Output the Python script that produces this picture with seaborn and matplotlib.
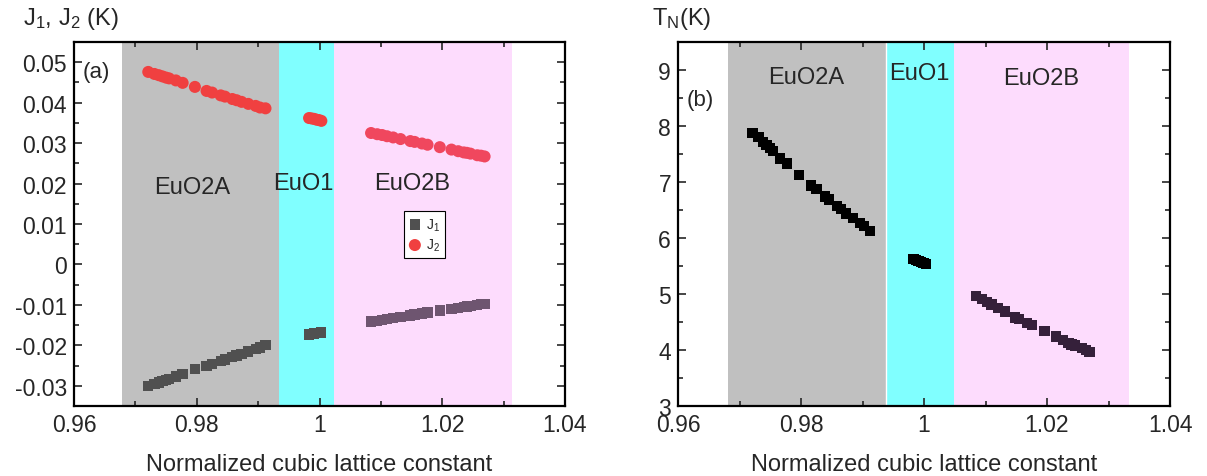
import numpy as np
import pandas as pd
import matplotlib
matplotlib.use("Agg")
import matplotlib.pyplot as plt
import seaborn as sns
from matplotlib.ticker import MultipleLocator

# ---------------- data ----------------
x_A = [0.9721, 0.9731, 0.9738, 0.9744, 0.9750, 0.9755, 0.9766, 0.9777, 0.9797, 0.9816,
       0.9825, 0.9839, 0.9846, 0.9858, 0.9865, 0.9873, 0.9884, 0.9896, 0.9903, 0.9912]
J1_A = [-0.0301, -0.0296, -0.0292, -0.0289, -0.0286, -0.0283, -0.0277, -0.0271, -0.0258, -0.0251,
        -0.0246, -0.0239, -0.0235, -0.0229, -0.0225, -0.0221, -0.0215, -0.0209, -0.0205, -0.0200]
J2_A = [0.0476, 0.0471, 0.0468, 0.0465, 0.0462, 0.0460, 0.0455, 0.0449, 0.0439, 0.0429,
        0.0425, 0.0418, 0.0415, 0.0409, 0.0406, 0.0402, 0.0397, 0.0392, 0.0388, 0.0386]
TN_A = [7.88, 7.80, 7.72, 7.66, 7.61, 7.55, 7.42, 7.33, 7.13, 6.94,
        6.88, 6.74, 6.69, 6.57, 6.52, 6.44, 6.36, 6.27, 6.21, 6.12]

x_1 = [0.9983, 0.9987, 0.9991, 0.9995, 0.9999, 1.0003]
J1_1 = [-0.0173, -0.0172, -0.0171, -0.0170, -0.0169, -0.0168]
J2_1 = [0.0362, 0.0361, 0.0360, 0.0358, 0.0357, 0.0355]
TN_1 = [5.63, 5.61, 5.59, 5.57, 5.55, 5.53]

x_B = [1.0084, 1.0094, 1.0102, 1.0110, 1.0120, 1.0132, 1.0148, 1.0155, 1.0167, 1.0176,
       1.0196, 1.0215, 1.0226, 1.0235, 1.0240, 1.0246, 1.0257, 1.0263, 1.0269]
J1_B = [-0.0141, -0.0139, -0.0137, -0.0135, -0.0133, -0.0130, -0.0126, -0.0124, -0.0121, -0.0119,
        -0.0114, -0.0110, -0.0107, -0.0105, -0.0104, -0.0102, -0.0100, -0.0098, -0.0097]
J2_B = [0.0325, 0.0322, 0.0320, 0.0317, 0.0314, 0.0310, 0.0305, 0.0303, 0.0299, 0.0296,
        0.0290, 0.0284, 0.0280, 0.0277, 0.0276, 0.0274, 0.0270, 0.0269, 0.0267]
TN_B = [4.97, 4.91, 4.86, 4.81, 4.75, 4.69, 4.58, 4.55, 4.48, 4.45,
        4.34, 4.24, 4.18, 4.13, 4.10, 4.08, 4.04, 4.00, 3.97]

regions = ["EuO2A", "EuO1", "EuO2B"]
bounds_a = [0.9679, 0.9934, 1.0023, 1.0313]
bounds_b = [0.9681, 0.9939, 1.0048, 1.0334]
region_colors = ["#C0C0C0", "#80FFFF", "#FDDCFD"]
# marker colours as they appear over each background
J1_colors = ["#505050", "#505050", "#6E5570"]
J2_colors = ["#F04040", "#F04040", "#F0475E"]
TN_colors = ["#000000", "#000000", "#35203A"]

x_ticks = [0.96, 0.98, 1.00, 1.02, 1.04]
x_ticklabels = ["0.96", "0.98", "1", "1.02", "1.04"]
ya_ticks = [-0.03, -0.02, -0.01, 0.0, 0.01, 0.02, 0.03, 0.04, 0.05]
ya_ticklabels = ["-0.03", "-0.02", "-0.01", "0", "0.01", "0.02", "0.03", "0.04", "0.05"]
yb_ticks = [3, 4, 5, 6, 7, 8, 9]

# ---------------- style ----------------
sns.set_style("ticks")
plt.rcParams["font.family"] = ["Liberation Sans", "DejaVu Sans"]
plt.rcParams["mathtext.fontset"] = "custom"
plt.rcParams["mathtext.rm"] = "Liberation Sans"
plt.rcParams["mathtext.it"] = "Liberation Sans"

fig = plt.figure(figsize=(12.07, 4.77), dpi=100)
W, H = 1207, 477
ax1 = fig.add_axes([74 / W, 70 / H, 491 / W, 364 / H])
ax2 = fig.add_axes([678 / W, 70 / H, 492 / W, 364 / H])

xs = [x_A, x_1, x_B]
J1s = [J1_A, J1_1, J1_B]
J2s = [J2_A, J2_1, J2_B]
TNs = [TN_A, TN_1, TN_B]

FS = 16.5

def style_axes(ax):
    for s in ax.spines.values():
        s.set_linewidth(1.6)
        s.set_color("black")
        s.set_visible(True)
    ax.set_xlim(0.96, 1.04)
    ax.set_xticks(x_ticks)
    ax.set_xticklabels(x_ticklabels)
    ax.xaxis.set_minor_locator(MultipleLocator(0.01))
    ax.tick_params(which="both", direction="in", left=True, right=True, bottom=True, top=True,
                   labelsize=FS, width=1.2)
    ax.tick_params(which="major", length=6)
    ax.tick_params(which="minor", length=3.5)
    ax.tick_params(axis="x", pad=5)
    ax.tick_params(axis="y", pad=5)
    ax.set_xlabel("Normalized cubic lattice constant", fontsize=17, labelpad=12)
    ax.set_ylabel("")

# ---- panel (a)
for (lo, hi), c in zip(zip(bounds_a[:-1], bounds_a[1:]), region_colors):
    ax1.axvspan(lo, hi, color=c, lw=0, zorder=0)
for i in range(3):
    d1 = pd.DataFrame({"x": xs[i], "J": J1s[i]})
    d2 = pd.DataFrame({"x": xs[i], "J": J2s[i]})
    sns.scatterplot(data=d1, x="x", y="J", color=J1_colors[i], marker="s", s=55,
                    edgecolor="none", linewidth=0, ax=ax1, zorder=3,
                    label="J$_1$" if i == 0 else "_nolegend_")
    sns.scatterplot(data=d2, x="x", y="J", color=J2_colors[i], marker="o", s=75,
                    edgecolor="none", linewidth=0, ax=ax1, zorder=3,
                    label="J$_2$" if i == 0 else "_nolegend_")
ax1.set_ylim(-0.035, 0.055)
ax1.set_yticks(ya_ticks)
ax1.set_yticklabels(ya_ticklabels)
ax1.yaxis.set_minor_locator(MultipleLocator(0.005))
style_axes(ax1)
leg = ax1.legend(loc="upper left", bbox_to_anchor=(0.673, 0.535), fontsize=10,
                 frameon=True, fancybox=False, edgecolor="black", framealpha=1,
                 handlelength=0.8, handletextpad=0.4, borderpad=0.35, labelspacing=0.3,
                 borderaxespad=0)
leg.get_frame().set_linewidth(0.8)

labels_pos_a = [(0.9793, 0.0192), (0.9974, 0.0201), (1.0151, 0.0201)]
for name, (xx, yy) in zip(regions, labels_pos_a):
    ax1.text(xx, yy, name, fontsize=17, ha="center", va="center", zorder=4)
ax1.text(0.017, 0.92, "(a)", transform=ax1.transAxes, fontsize=16, ha="left", va="center")

# ---- panel (b)
for (lo, hi), c in zip(zip(bounds_b[:-1], bounds_b[1:]), region_colors):
    ax2.axvspan(lo, hi, color=c, lw=0, zorder=0)
ax2.axvline(bounds_b[1], color="white", lw=1, zorder=1)
for i in range(3):
    db = pd.DataFrame({"x": xs[i], "TN": TNs[i]})
    sns.scatterplot(data=db, x="x", y="TN", color=TN_colors[i], marker="s", s=55,
                    edgecolor="none", linewidth=0, ax=ax2, zorder=3)
ax2.set_ylim(3, 9.5)
ax2.set_yticks(yb_ticks)
ax2.yaxis.set_minor_locator(MultipleLocator(0.5))
style_axes(ax2)
labels_pos_b = [(0.9808, 8.88), (0.9993, 8.95), (1.0191, 8.86)]
for name, (xx, yy) in zip(regions, labels_pos_b):
    ax2.text(xx, yy, name, fontsize=17, ha="center", va="center", zorder=4)
ax2.text(0.018, 0.843, "(b)", transform=ax2.transAxes, fontsize=16, ha="left", va="center")

# axis titles placed at the top-left like the original
fig.text(23 / W, 1 - 19 / H, "J$_1$, J$_2$ (K)", fontsize=17, ha="left", va="center")
fig.text(652 / W, 1 - 19 / H, "T$_N$(K)", fontsize=17, ha="left", va="center")

fig.savefig("out.png", dpi=100)
